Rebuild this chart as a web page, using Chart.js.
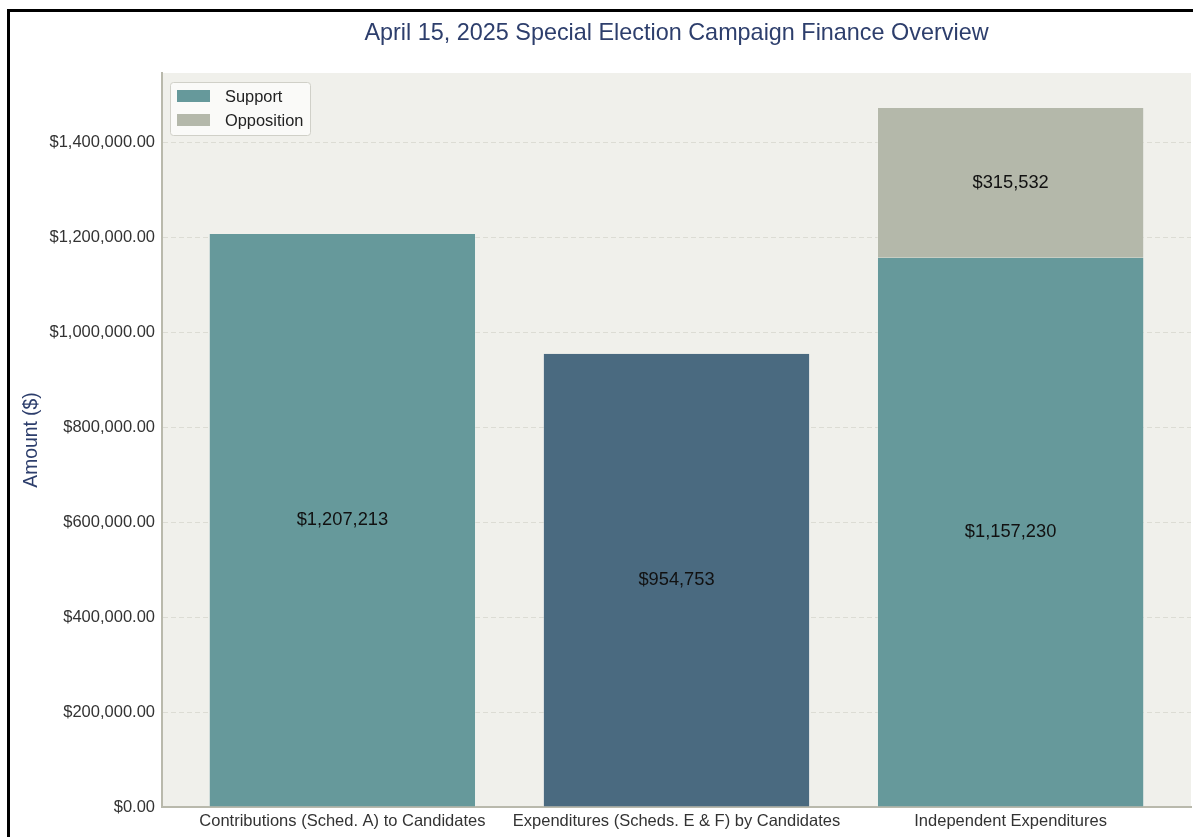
<!DOCTYPE html>
<html>
<head>
<meta charset="utf-8">
<script src="https://cdn.jsdelivr.net/npm/chart.js@4/dist/chart.umd.min.js"></script>
<style>
  html, body { margin: 0; padding: 0; background: #fff; overflow: hidden; }
  #wrap { position: relative; width: 1193px; height: 837px; }
  #frame {
    position: absolute; left: 7px; top: 9px; width: 3000px; height: 3000px;
    border: 3px solid #000; pointer-events: none;
  }
</style>
</head>
<body>
<div id="wrap">
  <canvas id="myChart" width="1193" height="837"></canvas>
  <div id="frame"></div>
</div>
<script>
const categories = [
  'Contributions (Sched. A) to Candidates',
  'Expenditures (Scheds. E & F) by Candidates',
  'Independent Expenditures'
]
const contributions = 1207213
const candidateExpenditures = 954753
const independentSupport = 1157230
const independentOpposition = 315532
const yTicks = [0, 200000, 400000, 600000, 800000, 1000000, 1200000, 1400000]

const TEAL = '#66999b'
const SLATE = '#4a6a80'
const SAGE = '#b4b8aa'
const NAVY = '#2d3e6c'
const FONT = '"Liberation Sans", Arial, sans-serif'

const money = v => '$' + Math.round(v).toLocaleString('en-US')
const topValue = Math.max(contributions, candidateExpenditures, independentSupport + independentOpposition)

// background, title, axis title, legend and value labels
const decor = {
  id: 'decor',
  beforeDraw(chart) {
    const { ctx, chartArea: a } = chart
    ctx.save()
    ctx.fillStyle = '#f0f0eb'
    ctx.fillRect(a.left, a.top, a.right - a.left, a.bottom - a.top)
    ctx.restore()
  },
  afterDatasetsDraw(chart) {
    const { ctx, chartArea: a } = chart
    ctx.save()

    // value labels in the middle of each segment
    ctx.font = '18.3px ' + FONT
    ctx.fillStyle = '#111'
    ctx.textAlign = 'center'
    ctx.textBaseline = 'middle'
    chart.data.datasets.forEach((ds, i) => {
      chart.getDatasetMeta(i).data.forEach((bar, j) => {
        const v = ds.data[j].y
        ctx.fillText(money(v), bar.x, (bar.y + bar.base) / 2)
      })
    })

    // title
    ctx.fillStyle = NAVY
    ctx.font = '23.4px ' + FONT
    ctx.fillText('April 15, 2025 Special Election Campaign Finance Overview', (a.left + a.right) / 2, 34)

    // y axis title
    ctx.save()
    ctx.translate(32, (a.top + a.bottom) / 2)
    ctx.rotate(-Math.PI / 2)
    ctx.font = '19.3px ' + FONT
    ctx.fillText('Amount ($)', 0, 0)
    ctx.restore()

    // legend box, top left inside the plot
    const items = chart.data.datasets.filter(d => d.legend)
    const lx = a.left + 8, ly = a.top + 9
    ctx.fillStyle = 'rgba(252,252,250,0.85)'
    ctx.strokeStyle = '#d0d0c8'
    ctx.lineWidth = 1
    ctx.beginPath()
    ctx.roundRect(lx + 0.5, ly + 0.5, 140, 53, 3)
    ctx.fill()
    ctx.stroke()
    ctx.textAlign = 'left'
    ctx.font = '16.4px ' + FONT
    items.forEach((d, k) => {
      const cy = ly + 14 + k * 24
      ctx.fillStyle = d.backgroundColor
      ctx.fillRect(lx + 7, cy - 6, 33, 12)
      ctx.fillStyle = '#222'
      ctx.fillText(d.label, lx + 55, cy + 1)
    })
    ctx.restore()
  }
}

new Chart(document.getElementById('myChart'), {
  type: 'bar',
  data: {
    datasets: [
      { label: 'Support', legend: true, data: [{ x: 0, y: contributions }, { x: 2, y: independentSupport }], backgroundColor: TEAL },
      { label: 'Candidates', legend: false, data: [{ x: 1, y: candidateExpenditures }], backgroundColor: SLATE },
      { label: 'Opposition', legend: true, data: [{ x: 2, y: independentOpposition }], backgroundColor: SAGE }
    ]
  },
  options: {
    responsive: false,
    animation: false,
    layout: { padding: { left: 0, right: 2, top: 73, bottom: 0 } },
    datasets: {
      bar: {
        barPercentage: 0.8,
        categoryPercentage: 1,
        borderWidth: { top: 0, left: 1, right: 1, bottom: 0 },
        borderColor: 'rgba(255,255,255,0.3)',
        borderSkipped: false
      }
    },
    plugins: {
      legend: { display: false },
      tooltip: { enabled: false }
    },
    scales: {
      x: {
        type: 'linear',
        stacked: true,
        offset: false,
        min: -0.54,
        max: 2.54,
        afterBuildTicks: s => { s.ticks = categories.map((c, i) => ({ value: i })) },
        afterFit: s => { s.height = 30 },
        grid: { display: false, drawTicks: false },
        border: { display: true, color: '#b9b9ac', width: 2 },
        ticks: {
          autoSkip: false,
          maxRotation: 0,
          padding: 5,
          color: '#333',
          font: { family: FONT, size: 16.5 },
          callback: v => categories[v]
        }
      },
      y: {
        stacked: true,
        min: 0,
        max: topValue * 1.05,
        afterBuildTicks: s => { s.ticks = yTicks.map(v => ({ value: v })) },
        afterFit: s => { s.width = 162 },
        grid: { color: '#dcdcd4', lineWidth: 1, drawTicks: false },
        border: { display: true, color: '#b9b9ac', width: 2, dash: [5, 3] },
        ticks: {
          padding: 7,
          color: '#333',
          font: { family: FONT, size: 16.5 },
          callback: v => '$' + v.toLocaleString('en-US', { minimumFractionDigits: 2, maximumFractionDigits: 2 })
        }
      }
    }
  },
  plugins: [decor]
})
</script>
</body>
</html>
